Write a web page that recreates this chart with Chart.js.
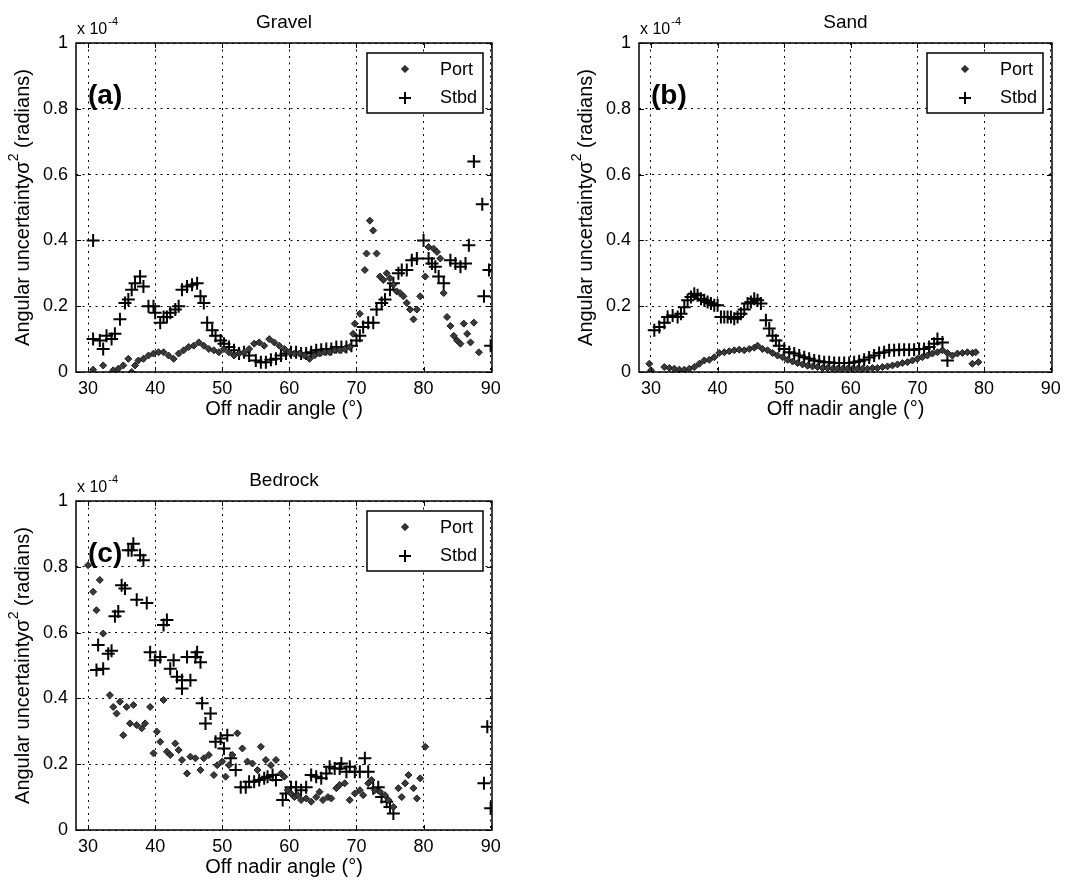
<!DOCTYPE html>
<html>
<head>
<meta charset="utf-8">
<script src="https://cdn.jsdelivr.net/npm/chart.js@4.4.0/dist/chart.umd.min.js"></script>
<style>
  body { margin: 0; background: #fff; width: 1085px; height: 886px; position: relative; overflow: hidden; }
  canvas { position: absolute; }
</style>
</head>
<body>
<canvas id="gravel" width="540" height="430" style="left:0;top:0"></canvas>
<canvas id="sand" width="545" height="430" style="left:540px;top:0"></canvas>
<canvas id="bedrock" width="540" height="456" style="left:0;top:430px"></canvas>
<script>
// angular uncertainty sigma^2, in units of 1e-4 rad, vs off nadir angle (deg)
const xTicks = [30, 40, 50, 60, 70, 80, 90];
const yTicks = [0, 0.2, 0.4, 0.6, 0.8, 1];
const yTickLabels = ['0', '0.2', '0.4', '0.6', '0.8', '1'];

const gravelPort = [
  [30.75, 0.007], [32.25, 0.02], [33.75, 0.005], [34.5, 0.01], [35.25, 0.02], [36, 0.04], [36.5, 0.0],
  [37, 0.02], [37.5, 0.035], [38.25, 0.04], [39, 0.05], [39.75, 0.056], [40.5, 0.06], [41.25, 0.06],
  [42, 0.05], [42.75, 0.04], [43.5, 0.056], [44.25, 0.066], [45, 0.076], [45.75, 0.08], [46.5, 0.09],
  [47.25, 0.08], [48, 0.07], [48.75, 0.066], [49.5, 0.06], [50.25, 0.07], [51, 0.06], [51.75, 0.05],
  [52.5, 0.056], [53.25, 0.06], [54, 0.07], [54.75, 0.086], [55.5, 0.09], [56.25, 0.08], [57, 0.10],
  [57.75, 0.09], [58.5, 0.08], [59.25, 0.07], [60, 0.06], [60.75, 0.056], [61.5, 0.056], [62.25, 0.05],
  [63, 0.04], [63.75, 0.05], [64.5, 0.056], [65.25, 0.06], [66, 0.06], [66.75, 0.066], [67.5, 0.066],
  [68.25, 0.07], [69, 0.076], [69.5, 0.116], [69.75, 0.147], [70.5, 0.177], [71.25, 0.31], [71.5, 0.36],
  [72, 0.46], [72.5, 0.43], [73, 0.36], [73.5, 0.29], [74, 0.28], [74.5, 0.30], [75, 0.285], [75.5, 0.265],
  [76, 0.245], [76.5, 0.24], [77, 0.23], [77.5, 0.21], [78, 0.19], [78.5, 0.16], [79, 0.19], [79.5, 0.23],
  [80.25, 0.29], [80.75, 0.38], [81.5, 0.375], [82, 0.365], [82.5, 0.345], [83, 0.24], [83.5, 0.167],
  [84, 0.14], [84.5, 0.11], [85, 0.096], [85.5, 0.086], [86, 0.147], [86.5, 0.116], [87, 0.09],
  [87.5, 0.15], [88.25, 0.06]
];
const gravelStbd = [
  [30.75, 0.40], [30.75, 0.10], [31.75, 0.096], [32.25, 0.07], [32.75, 0.11], [33.5, 0.10], [34, 0.116],
  [34.75, 0.16], [35.5, 0.21], [36, 0.22], [36.5, 0.25], [37, 0.27], [37.75, 0.29], [38.25, 0.26],
  [39, 0.20], [39.75, 0.20], [40, 0.18], [40.75, 0.15], [41.25, 0.167], [41.75, 0.167], [42.25, 0.18],
  [43, 0.19], [43.5, 0.20], [44, 0.25], [44.75, 0.26], [45.5, 0.265], [46.25, 0.27], [46.75, 0.23],
  [47.25, 0.21], [47.75, 0.15], [48.5, 0.127], [49, 0.11], [49.75, 0.096], [50.25, 0.086], [51, 0.076],
  [51.75, 0.066], [52.5, 0.056], [53.25, 0.06], [54, 0.05], [55, 0.035], [55.75, 0.03], [56.5, 0.03],
  [57.25, 0.037], [58, 0.04], [58.75, 0.05], [59.5, 0.056], [60.25, 0.06], [61, 0.06], [61.75, 0.056],
  [62.5, 0.056], [63.25, 0.06], [64, 0.066], [64.75, 0.068], [65.5, 0.07], [66.25, 0.07], [67, 0.076],
  [67.75, 0.076], [68.5, 0.076], [69.25, 0.08], [70, 0.096], [70.5, 0.11], [71, 0.137], [71.75, 0.15],
  [72.5, 0.15], [73, 0.19], [73.75, 0.21], [74.25, 0.22], [75, 0.25], [75.5, 0.27], [76.25, 0.30],
  [76.75, 0.31], [77.5, 0.31], [78.25, 0.34], [79, 0.345], [80, 0.40], [80.75, 0.345], [81.25, 0.33],
  [81.75, 0.32], [82.25, 0.29], [83, 0.27], [84, 0.34], [84.75, 0.33], [85.5, 0.32], [86.25, 0.33],
  [86.75, 0.385], [87.5, 0.64], [88.75, 0.51], [89, 0.23], [89.75, 0.31], [90, 0.08]
];

const sandPort = [
  [29.75, 0.025], [30, 0.005], [32, 0.015], [32.75, 0.012], [33.5, 0.01], [34.25, 0.007], [35, 0.007],
  [35.75, 0.01], [36.5, 0.015], [37.25, 0.025], [38, 0.035], [38.75, 0.037], [39.5, 0.045], [40.25, 0.058],
  [41, 0.06], [41.75, 0.063], [42.5, 0.066], [43.25, 0.068], [44, 0.066], [44.75, 0.07], [45.5, 0.074],
  [46, 0.08], [46.75, 0.07], [47.5, 0.066], [48.25, 0.058], [49, 0.05], [49.75, 0.045], [50.5, 0.037],
  [51.25, 0.032], [52, 0.027], [52.75, 0.023], [53.5, 0.019], [54.25, 0.017], [55, 0.015], [55.75, 0.012],
  [56.5, 0.012], [57.25, 0.01], [58, 0.01], [58.75, 0.01], [59.5, 0.01], [60.25, 0.01], [61, 0.01],
  [61.75, 0.01], [62.5, 0.01], [63.25, 0.012], [64, 0.012], [64.75, 0.015], [65.5, 0.017], [66.25, 0.02],
  [67, 0.023], [67.75, 0.027], [68.5, 0.03], [69.25, 0.035], [70, 0.04], [70.75, 0.045], [71.5, 0.05],
  [72.25, 0.056], [73, 0.06], [73.75, 0.066], [74.5, 0.058], [75.25, 0.05], [76, 0.056], [76.75, 0.058],
  [77.5, 0.06], [78.25, 0.058], [78.75, 0.06], [78.25, 0.025], [79.15, 0.03]
];
const sandStbd = [
  [30.5, 0.127], [31.25, 0.137], [32, 0.15], [32.5, 0.167], [33.25, 0.172], [34, 0.167], [34.5, 0.177],
  [35, 0.197], [35.5, 0.218], [36, 0.228], [36.5, 0.238], [37, 0.233], [37.5, 0.223], [38, 0.218],
  [38.5, 0.213], [39, 0.208], [39.5, 0.203], [40, 0.203], [40.5, 0.167], [41, 0.167], [41.5, 0.167],
  [42, 0.167], [42.5, 0.162], [43, 0.167], [43.5, 0.177], [44, 0.19], [44.5, 0.208], [45, 0.213],
  [45.5, 0.223], [46, 0.218], [46.5, 0.208], [47.25, 0.157], [47.75, 0.132], [48.25, 0.11], [48.75, 0.096],
  [49.25, 0.08], [50, 0.07], [50.75, 0.06], [51.5, 0.056], [52.25, 0.05], [53, 0.045], [53.75, 0.04],
  [54.5, 0.035], [55.25, 0.033], [56, 0.03], [56.75, 0.03], [57.5, 0.027], [58.25, 0.027], [59, 0.027],
  [59.75, 0.027], [60.5, 0.03], [61.25, 0.033], [62, 0.037], [62.75, 0.044], [63.5, 0.05], [64.25, 0.058],
  [65, 0.06], [65.75, 0.066], [66.5, 0.066], [67.25, 0.068], [68, 0.068], [68.75, 0.068], [69.5, 0.068],
  [70.25, 0.07], [71, 0.07], [71.75, 0.076], [72.5, 0.086], [73, 0.10], [73.75, 0.09], [74.5, 0.035]
];

const bedrockPort = [
  [30, 0.805], [30.75, 0.724], [31.25, 0.668], [31.75, 0.76], [32.25, 0.597], [33.25, 0.41], [33.75, 0.374],
  [34.25, 0.354], [34.75, 0.39], [35.25, 0.288], [35.75, 0.374], [36.25, 0.324], [36.75, 0.38], [37.25, 0.319],
  [38, 0.309], [38.5, 0.324], [39.25, 0.374], [39.75, 0.233], [40.25, 0.299], [40.75, 0.268], [41.25, 0.395],
  [41.75, 0.238], [42.25, 0.228], [43, 0.263], [43.5, 0.243], [44, 0.213], [44.75, 0.172], [45.25, 0.223],
  [46, 0.218], [46.75, 0.182], [47.25, 0.218], [48, 0.228], [48.75, 0.167], [49.25, 0.197], [50, 0.208],
  [50.5, 0.162], [51, 0.197], [51.5, 0.228], [52.25, 0.294], [53, 0.248], [53.75, 0.208], [54.5, 0.202],
  [55.25, 0.182], [55.75, 0.253], [56.5, 0.213], [57.25, 0.197], [58, 0.213], [58.75, 0.172], [59.25, 0.162],
  [59.75, 0.121], [60.25, 0.111], [60.75, 0.10], [61.25, 0.106], [61.75, 0.091], [62.5, 0.096], [63.25, 0.086],
  [64, 0.10], [64.5, 0.116], [65, 0.091], [65.75, 0.10], [66.25, 0.096], [67, 0.127], [67.5, 0.137],
  [68.25, 0.142], [69, 0.091], [69.75, 0.111], [70.5, 0.121], [71, 0.106], [71.75, 0.142], [72.25, 0.152],
  [72.75, 0.121], [73.5, 0.116], [74.25, 0.106], [74.75, 0.091], [75.5, 0.07], [76.25, 0.127], [76.75, 0.10],
  [77.25, 0.142], [77.75, 0.167], [78.5, 0.127], [79, 0.096], [79.5, 0.157], [80.25, 0.253]
];
const bedrockStbd = [
  [31.25, 0.486], [31.5, 0.562], [32.25, 0.49], [33, 0.536], [33.5, 0.545], [34, 0.65], [34.5, 0.664],
  [35, 0.744], [35.5, 0.734], [36, 0.85], [36.5, 0.85], [36.75, 0.87], [37.25, 0.70], [37.75, 0.835],
  [38.25, 0.82], [38.75, 0.69], [39.25, 0.54], [40, 0.516], [40.75, 0.526], [41.25, 0.623], [41.75, 0.638],
  [42.25, 0.49], [42.75, 0.516], [43.25, 0.466], [44, 0.455], [44, 0.43], [44.75, 0.526], [45.25, 0.455],
  [46, 0.526], [46.25, 0.54], [46.75, 0.51], [47, 0.385], [47.5, 0.324], [48.25, 0.354], [49, 0.268],
  [49.75, 0.278], [50.25, 0.248], [50.75, 0.288], [51.25, 0.218], [52, 0.182], [52.75, 0.13], [53.5, 0.13],
  [54, 0.147], [54.75, 0.147], [55.5, 0.152], [56.25, 0.157], [56.75, 0.162], [57.5, 0.167], [58, 0.152],
  [59, 0.091], [59.5, 0.111], [60.25, 0.13], [61, 0.13], [61.75, 0.121], [62.5, 0.13], [63.25, 0.167],
  [64, 0.162], [64.75, 0.157], [65.5, 0.172], [66, 0.192], [66.75, 0.187], [67.5, 0.187], [67.75, 0.202],
  [68.5, 0.177], [69, 0.192], [69.75, 0.177], [70.5, 0.177], [71.25, 0.218], [71.75, 0.177], [72.5, 0.127],
  [73.25, 0.13], [73.75, 0.10], [74.5, 0.086], [75, 0.07], [75.5, 0.05], [89, 0.142], [89.5, 0.314], [90, 0.066]
];

const FONT = '"Liberation Sans", Arial, sans-serif';

const drawDiamond = (ctx, x, y, r) => {
    ctx.beginPath();
    ctx.moveTo(x, y - r);
    ctx.lineTo(x + r, y);
    ctx.lineTo(x, y + r);
    ctx.lineTo(x - r, y);
    ctx.closePath();
    ctx.fill();
    ctx.stroke();
};

const drawCross = (ctx, x, y, r) => {
    ctx.beginPath();
    ctx.moveTo(x - r, y);
    ctx.lineTo(x + r, y);
    ctx.moveTo(x, y - r);
    ctx.lineTo(x, y + r);
    ctx.stroke();
};

// frame, inward ticks, titles, multiplier, panel tag and legend box
const panelDecor = {
    id: 'panelDecor',
    afterDraw(chart, args, opts) {
        const ctx = chart.ctx;
        const a = chart.chartArea;
        const xs = chart.scales.x;
        const ys = chart.scales.y;
        ctx.save();
        ctx.strokeStyle = '#000';
        ctx.fillStyle = '#000';

        ctx.lineWidth = 1.5;
        ctx.strokeRect(a.left, a.top, a.right - a.left, a.bottom - a.top);

        ctx.lineWidth = 1;
        ctx.beginPath();
        xTicks.forEach(v => {
            const px = Math.round(xs.getPixelForValue(v)) + 0.5;
            ctx.moveTo(px, a.bottom); ctx.lineTo(px, a.bottom - 5);
            ctx.moveTo(px, a.top); ctx.lineTo(px, a.top + 5);
        });
        yTicks.forEach(v => {
            const py = Math.round(ys.getPixelForValue(v)) + 0.5;
            ctx.moveTo(a.left, py); ctx.lineTo(a.left + 5, py);
            ctx.moveTo(a.right, py); ctx.lineTo(a.right - 5, py);
        });
        ctx.stroke();

        const cx = (a.left + a.right) / 2;
        ctx.textAlign = 'center';
        ctx.textBaseline = 'middle';
        ctx.font = '19px ' + FONT;
        ctx.fillText(opts.title, cx, a.top - 20);
        ctx.font = '20px ' + FONT;
        ctx.fillText('Off nadir angle (°)', cx, a.bottom + 37);

        // rotated y label with superscript 2
        ctx.save();
        ctx.translate(a.left - 53, (a.top + a.bottom) / 2);
        ctx.rotate(-Math.PI / 2);
        ctx.textAlign = 'left';
        ctx.textBaseline = 'middle';
        const p1 = 'Angular uncertaintyσ', p2 = '2', p3 = ' (radians)';
        ctx.font = '20px ' + FONT;
        const w1 = ctx.measureText(p1).width;
        const w3 = ctx.measureText(p3).width;
        ctx.font = '14px ' + FONT;
        const w2 = ctx.measureText(p2).width;
        let tx = -(w1 + w2 + w3) / 2;
        ctx.font = '20px ' + FONT;
        ctx.fillText(p1, tx, 0);
        ctx.font = '14px ' + FONT;
        ctx.fillText(p2, tx + w1, -9);
        ctx.font = '20px ' + FONT;
        ctx.fillText(p3, tx + w1 + w2, 0);
        ctx.restore();

        // exponent above the y axis
        ctx.textAlign = 'left';
        ctx.textBaseline = 'alphabetic';
        ctx.font = '16px ' + FONT;
        ctx.fillText('x 10', a.left + 1, a.top - 9);
        const wx = ctx.measureText('x 10').width;
        ctx.font = '11px ' + FONT;
        ctx.fillText('-4', a.left + 2 + wx, a.top - 18);

        ctx.font = 'bold 28px ' + FONT;
        ctx.textBaseline = 'middle';
        ctx.fillText(opts.tag, a.left + 12, a.top + 53);

        // legend
        const lx = a.right - 125, ly = a.top + 10, lw = 116, lh = 60;
        ctx.fillStyle = '#fff';
        ctx.fillRect(lx, ly, lw, lh);
        ctx.lineWidth = 1.5;
        ctx.strokeRect(lx, ly, lw, lh);
        ctx.fillStyle = '#333';
        ctx.strokeStyle = '#111';
        ctx.lineWidth = 1;
        drawDiamond(ctx, lx + 38, ly + 16, 3.5);
        ctx.strokeStyle = '#000';
        ctx.lineWidth = 2;
        drawCross(ctx, lx + 38, ly + 45, 6);
        ctx.fillStyle = '#000';
        ctx.font = '18px ' + FONT;
        ctx.fillText('Port', lx + 73, ly + 17);
        ctx.fillText('Stbd', lx + 73, ly + 45);
        ctx.restore();
    }
};

const toPoints = arr => arr.map(p => ({ x: p[0], y: p[1] }));

const makePanel = (id, title, tag, port, stbd, pad) => {
    const ctx = document.getElementById(id).getContext('2d');
    return new Chart(ctx, {
        type: 'scatter',
        data: {
            datasets: [
                {
                    label: 'Port',
                    data: toPoints(port),
                    pointStyle: 'rectRot',
                    pointRadius: 3.5,
                    backgroundColor: '#3a3a3a',
                    borderColor: '#1a1a1a',
                    borderWidth: 1,
                },
                {
                    label: 'Stbd',
                    data: toPoints(stbd),
                    pointStyle: 'cross',
                    pointRadius: 6.5,
                    borderColor: '#000',
                    borderWidth: 2,
                },
            ],
        },
        options: {
            responsive: false,
            animation: false,
            devicePixelRatio: 1,
            layout: { padding: { left: 0, top: pad.top, right: pad.right, bottom: 0 } },
            plugins: {
                legend: { display: false },
                tooltip: { enabled: false },
                panelDecor: { title: title, tag: tag },
            },
            scales: {
                x: {
                    type: 'linear',
                    min: 28.2,
                    max: 90.2,
                    afterBuildTicks: s => { s.ticks = xTicks.map(v => ({ value: v })); },
                    afterFit: s => { s.height = pad.bottom; },
                    ticks: {
                        color: '#000',
                        padding: 6,
                        font: { family: FONT, size: 18 },
                        callback: v => String(v),
                    },
                    grid: { color: '#000', lineWidth: 1, drawTicks: false },
                    border: { display: false, dash: [2, 4.5] },
                },
                y: {
                    type: 'linear',
                    min: 0,
                    max: 1,
                    afterBuildTicks: s => { s.ticks = yTicks.map(v => ({ value: v })); },
                    afterFit: s => { s.width = pad.left; },
                    ticks: {
                        color: '#000',
                        padding: 8,
                        font: { family: FONT, size: 18 },
                        callback: (v, i) => yTickLabels[i],
                    },
                    grid: { color: '#000', lineWidth: 1, drawTicks: false },
                    border: { display: false, dash: [2, 4.5] },
                },
            },
        },
        plugins: [panelDecor],
    });
};

makePanel('gravel', 'Gravel', '(a)', gravelPort, gravelStbd, { left: 76, top: 43, right: 48, bottom: 58 });
makePanel('sand', 'Sand', '(b)', sandPort, sandStbd, { left: 99, top: 43, right: 33, bottom: 58 });
makePanel('bedrock', 'Bedrock', '(c)', bedrockPort, bedrockStbd, { left: 76, top: 71, right: 48, bottom: 56 });
</script>
</body>
</html>
